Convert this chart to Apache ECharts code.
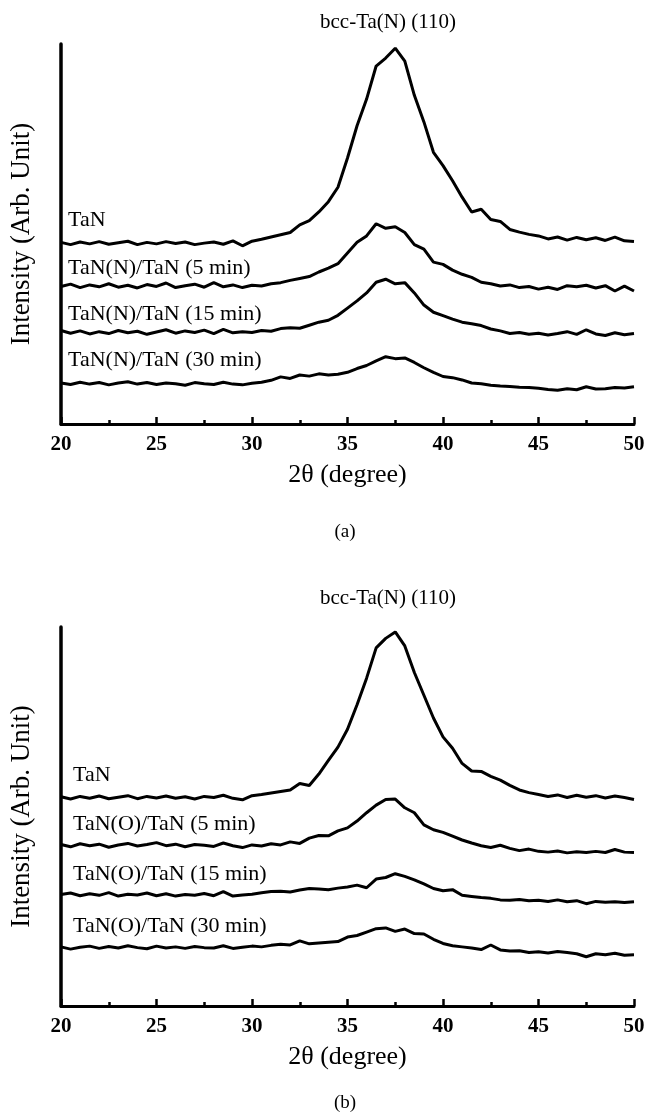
<!DOCTYPE html>
<html>
<head>
<meta charset="utf-8">
<script src="https://cdn.jsdelivr.net/npm/echarts@6/dist/echarts.min.js"></script>
<style>
  html, body { margin: 0; background: #fff; }
  #chart { width: 649px; height: 1119px; }
</style>
</head>
<body>
<div id="chart"></div>
<script>
// 2-theta positions (degree)
const angles = [20, 20.5, 21, 21.5, 22, 22.5, 23, 23.5, 24, 24.5,
  25, 25.5, 26, 26.5, 27, 27.5, 28, 28.5, 29, 29.5,
  30, 30.5, 31, 31.5, 32, 32.5, 33, 33.5, 34, 34.5,
  35, 35.5, 36, 36.5, 37, 37.5, 38, 38.5, 39, 39.5,
  40, 40.5, 41, 41.5, 42, 42.5, 43, 43.5, 44, 44.5,
  45, 45.5, 46, 46.5, 47, 47.5, 48, 48.5, 49, 49.5,
  50]

// (a) nitrided samples, stacked intensity (arb.)
const tanA = [47.8, 47.2, 47.9, 47.4, 48.0, 47.3, 47.7, 48.1, 47.2, 47.8,
  47.4, 48.0, 47.5, 47.9, 47.2, 47.6, 47.9, 47.3, 48.2, 46.9,
  48.1, 48.6, 49.2, 49.8, 50.4, 52.4, 53.5, 55.8, 58.5, 62.3,
  70.0, 78.5, 85.5, 94.2, 96.3, 98.9, 95.5, 86.5, 79.5, 71.5,
  68.0, 64.0, 59.7, 55.8, 56.5, 53.8, 53.3, 51.2, 50.5, 49.9,
  49.5, 48.7, 49.2, 48.4, 49.1, 48.5, 49.0, 48.3, 49.2, 48.2,
  48.0]
const tanN5 = [36.2, 36.8, 35.9, 36.6, 36.1, 36.9, 36.0, 36.5, 35.8, 36.7,
  36.2, 37.1, 35.9, 36.4, 36.8, 36.0, 37.2, 36.1, 36.6, 35.9,
  36.5, 36.3, 36.9, 37.2, 37.8, 38.3, 38.8, 40.0, 41.0, 42.2,
  45.0, 47.8, 49.5, 52.7, 51.5, 51.9, 50.4, 47.2, 46.0, 42.6,
  42.0, 40.5, 39.4, 38.6, 37.3, 36.9, 36.3, 36.6, 35.9, 36.2,
  35.5, 36.0, 35.4, 36.4, 36.1, 36.5, 35.8, 36.4, 35.0, 36.3,
  35.0]
const tanN15 = [24.6, 23.9, 24.5, 23.7, 24.3, 23.8, 24.6, 24.0, 24.4, 23.6,
  24.2, 24.8, 23.9, 24.5, 24.1, 24.7, 23.8, 24.9, 24.0, 24.3,
  24.1, 24.6, 24.4, 25.1, 25.3, 25.2, 26.0, 26.8, 27.3, 28.6,
  30.5, 32.4, 34.5, 37.3, 38.1, 36.9, 37.2, 34.5, 31.3, 29.4,
  28.5, 27.6, 26.8, 26.4, 25.9, 25.0, 24.5, 23.8, 24.1, 23.6,
  23.9, 23.4, 23.8, 24.3, 23.6, 24.8, 23.7, 23.3, 24.0, 23.5,
  23.8]
const tanN30 = [10.8, 10.4, 11.0, 10.5, 10.9, 10.3, 10.8, 11.1, 10.5, 10.9,
  10.4, 10.8, 10.6, 10.2, 10.9, 10.6, 10.4, 11.0, 10.5, 10.3,
  10.7, 11.0, 11.5, 12.4, 12.0, 12.9, 12.6, 13.2, 12.9, 13.1,
  13.6, 14.6, 15.4, 16.6, 17.7, 17.2, 17.4, 16.2, 14.8, 13.6,
  12.5, 12.2, 11.6, 10.8, 10.6, 10.2, 10.0, 9.9, 9.7, 9.6,
  9.4, 9.1, 8.9, 9.3, 9.0, 9.8, 9.2, 9.3, 9.6, 9.5,
  9.8]

// (b) oxidized samples
const tanB = [55.2, 54.6, 55.3, 54.8, 55.4, 54.7, 55.1, 55.5, 54.7, 55.3,
  54.9, 55.4, 54.8, 55.2, 54.6, 55.3, 55.0, 55.6, 54.8, 54.4,
  55.5, 55.8, 56.2, 56.6, 57.0, 58.7, 58.2, 61.2, 64.8, 68.3,
  73.0, 79.5, 86.5, 94.5, 97.0, 98.7, 95.0, 88.0, 82.0, 76.0,
  71.0, 68.0, 64.0, 62.0, 61.9, 60.6, 59.6, 58.2, 57.0, 56.3,
  55.8, 55.3, 55.7, 55.0, 55.6, 55.1, 55.5, 54.9, 55.4, 55.0,
  54.5]
const tanO5 = [42.6, 42.0, 42.8, 42.3, 42.7, 41.9, 42.5, 42.9, 42.2, 42.6,
  43.1, 42.3, 42.7, 42.0, 42.6, 42.4, 42.1, 43.0, 42.3, 41.8,
  42.5, 42.2, 42.8, 42.5, 43.3, 42.9, 44.3, 45.0, 44.9, 46.2,
  47.0, 48.8, 51.0, 53.0, 54.5, 54.6, 52.3, 51.0, 47.8, 46.5,
  45.8, 44.8, 43.8, 43.0, 42.3, 41.8, 42.4, 41.6, 41.0, 41.4,
  40.8, 40.6, 40.9, 40.4, 40.7, 40.5, 40.8, 40.5, 41.3, 40.6,
  40.5]
const tanO15 = [29.4, 29.8, 29.1, 29.6, 29.2, 29.9, 29.0, 29.5, 29.3, 29.8,
  29.1, 29.6, 29.0, 29.4, 29.2, 29.7, 29.1, 30.2, 29.0, 29.3,
  29.5, 29.9, 30.2, 30.3, 30.1, 30.6, 31.0, 30.9, 30.7, 31.1,
  31.4, 31.9, 31.2, 33.5, 33.9, 34.9, 34.2, 33.3, 32.2, 31.0,
  30.4, 30.7, 29.2, 28.9, 28.6, 28.4, 28.0, 27.9, 28.1, 27.8,
  27.9, 27.6, 28.0, 27.5, 27.8, 27.0, 27.6, 27.4, 27.5, 27.3,
  27.5]
const tanO30 = [15.6, 15.0, 15.5, 15.8, 15.2, 15.7, 15.3, 15.9, 15.4, 15.1,
  15.8, 15.3, 15.6, 15.2, 15.7, 15.4, 15.3, 15.9, 15.2, 15.5,
  15.8, 15.6, 16.0, 16.3, 16.1, 17.2, 16.4, 16.6, 16.8, 17.0,
  18.2, 18.6, 19.5, 20.4, 20.6, 19.7, 20.3, 19.1, 19.0, 17.6,
  16.5, 15.9, 15.6, 15.3, 14.9, 16.1, 14.8, 14.5, 14.6, 14.1,
  14.3, 14.0, 14.4, 14.1, 13.8, 13.0, 13.8, 13.5, 13.9, 13.4,
  13.5]

const labelsA = ['TaN', 'TaN(N)/TaN (5 min)', 'TaN(N)/TaN (15 min)', 'TaN(N)/TaN (30 min)']
const labelsB = ['TaN', 'TaN(O)/TaN (5 min)', 'TaN(O)/TaN (15 min)', 'TaN(O)/TaN (30 min)']
const peakLabel = 'bcc-Ta(N) (110)'

const serif = '"Liberation Serif", "DejaVu Serif", serif'

const chart = echarts.init(document.getElementById('chart'))

const zip = vals => angles.map((a, i) => [a, vals[i]])

const xAxisFor = gi => ({
  type: 'value',
  gridIndex: gi,
  min: 20,
  max: 50,
  interval: 5,
  name: '2θ (degree)',
  nameLocation: 'middle',
  nameGap: 38,
  nameTextStyle: { color: '#000', fontSize: 26, fontFamily: serif },
  axisLine: { show: true, lineStyle: { color: '#000', width: 3 } },
  axisTick: { show: true, inside: true, length: 7, lineStyle: { color: '#000', width: 2.5 } },
  minorTick: { show: true, splitNumber: 2, length: 4, lineStyle: { color: '#000', width: 2.5 } },
  splitLine: { show: false },
  axisLabel: { color: '#000', fontSize: 21, fontWeight: 'bold', fontFamily: serif, margin: 10 }
})

const yAxisFor = gi => ({
  type: 'value',
  gridIndex: gi,
  min: 0,
  max: 100,
  name: 'Intensity (Arb. Unit)',
  nameLocation: 'middle',
  nameGap: 26,
  nameTextStyle: { color: '#000', fontSize: 27, fontFamily: serif },
  axisLine: { show: true, lineStyle: { color: '#000', width: 3.5 } },
  axisTick: { show: false },
  axisLabel: { show: false },
  splitLine: { show: false }
})

const lineSeries = (vals, gi) => ({
  type: 'line',
  xAxisIndex: gi,
  yAxisIndex: gi,
  data: zip(vals),
  showSymbol: false,
  symbol: 'none',
  silent: true,
  lineStyle: { color: '#000', width: 3 }
})

const txt = (text, x, y, size, align) => ({
  type: 'text',
  x: x,
  y: y,
  style: {
    text: text,
    font: size + 'px ' + serif,
    fill: '#000',
    align: align || 'left',
    verticalAlign: 'middle',
    textAlign: align || 'left',
    textVerticalAlign: 'middle'
  }
})

const option = {
  animation: false,
  backgroundColor: '#fff',
  grid: [
    { left: 55, top: 44, width: 579, height: 380 },
    { left: 55, top: 627, width: 579, height: 379 }
  ],
  xAxis: [xAxisFor(0), xAxisFor(1)],
  yAxis: [yAxisFor(0), yAxisFor(1)],
  series: [
    lineSeries(tanA, 0), lineSeries(tanN5, 0), lineSeries(tanN15, 0), lineSeries(tanN30, 0),
    lineSeries(tanB, 1), lineSeries(tanO5, 1), lineSeries(tanO15, 1), lineSeries(tanO30, 1)
  ],
  graphic: [
    txt(peakLabel, 388, 22, 21, 'center'),
    txt(labelsA[0], 68, 220, 22),
    txt(labelsA[1], 68, 268, 22),
    txt(labelsA[2], 68, 314, 22),
    txt(labelsA[3], 68, 360, 22),
    txt('(a)', 345, 532, 19, 'center'),
    txt(peakLabel, 388, 598, 21, 'center'),
    txt(labelsB[0], 73, 775, 22),
    txt(labelsB[1], 73, 824, 22),
    txt(labelsB[2], 73, 874, 22),
    txt(labelsB[3], 73, 926, 22),
    txt('(b)', 345, 1103, 19, 'center')
  ]
}

chart.setOption(option)
</script>
</body>
</html>
